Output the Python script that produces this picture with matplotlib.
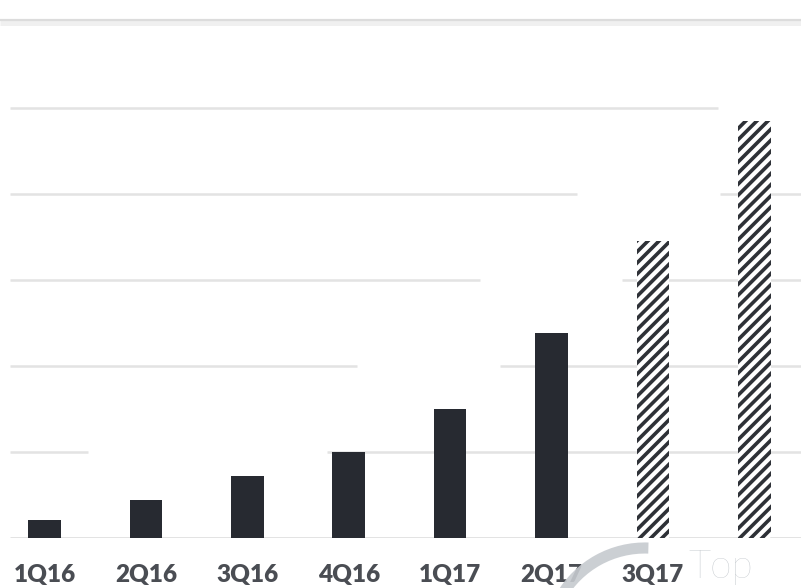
import numpy as np
import matplotlib
matplotlib.use("Agg")
import matplotlib.pyplot as plt
from matplotlib.patches import Arc

# data (in gridline units, no value axis is shown)
quarters = ['1Q16', '2Q16', '3Q16', '4Q16', '1Q17', '2Q17', '3Q17', '4Q17']
values = [0.21, 0.44, 0.72, 1.0, 1.5, 2.38, 3.45, 4.85]
forecast = [False, False, False, False, False, False, True, True]
shown_labels = ['1Q16', '2Q16', '3Q16', '4Q16', '1Q17', '2Q17', '3Q17', '']

# gridline gaps (erased value-label areas), x in bar units
grid_levels = [1, 2, 3, 4, 5]
grid_gaps = [(0.43, 2.79), (3.08, 4.49), (4.29, 5.70), (5.25, 6.66), (6.64, 9.0)]

plt.rcParams['hatch.linewidth'] = 2.6

W, H = 801, 588
fig = plt.figure(figsize=(W / 100, H / 100), dpi=100)
fig.patch.set_facecolor('white')

# main axes: bottom at baseline pixel 538, top at pixel 20
ax = fig.add_axes([0, (H - 538) / H, 1, (538 - 20) / H])
x0, x1 = (0 - 44.5) / 101.4, (W - 44.5) / 101.4
ax.set_xlim(x0, x1)
ax.set_ylim(0, (538 - 20) / 86)

x = np.arange(len(quarters))
grid_left = (10 - 44.5) / 101.4
for lvl, (g0, g1) in zip(grid_levels, grid_gaps):
    ax.hlines(lvl, grid_left, g0, color='#e3e3e3', lw=1.8, zorder=1)
    if g1 < x1:
        ax.hlines(lvl, g1, x1, color='#e3e3e3', lw=1.8, zorder=1)
ax.hlines(0, grid_left, x1, color='#dadada', lw=1.8, zorder=1)

for xi, v, f in zip(x, values, forecast):
    if f:
        ax.bar(xi, v, width=0.32, color='white', edgecolor='#2e3137',
               hatch='///', linewidth=0, zorder=2)
    else:
        ax.bar(xi, v, width=0.32, color='#272a31', linewidth=0, zorder=2)

ax.set_xticks(x)
ax.set_xticklabels(shown_labels, fontsize=17.5, fontweight='heavy',
                   color='#4a4d53', family=['Lato', 'DejaVu Sans'])
ax.tick_params(axis='x', length=0, pad=19)
ax.set_yticks([])
for s in ax.spines.values():
    s.set_visible(False)
ax.patch.set_alpha(0)

# overlay in pixel coordinates: header rule and watermark
ov = fig.add_axes([0, 0, 1, 1], zorder=5)
ov.set_xlim(0, W)
ov.set_ylim(H, 0)
ov.axis('off')
ov.patch.set_alpha(0)
ov.plot([0, W], [22, 22], color='#f0f0f0', lw=5, solid_capstyle='butt')
ov.plot([0, W], [20, 20], color='#dcdcdc', lw=1.6, solid_capstyle='butt')
ov.add_patch(Arc((645, 645), 194, 194, theta1=-150, theta2=-88,
                 color='#c6cacf', lw=8, alpha=0.9))
ov.text(688, 578, 'Top', fontsize=28, color='#bfc4c9', fontweight='light',
        family=['Lato', 'DejaVu Sans'], va='baseline', ha='left')

fig.savefig('out.png', dpi=100, facecolor='white')
